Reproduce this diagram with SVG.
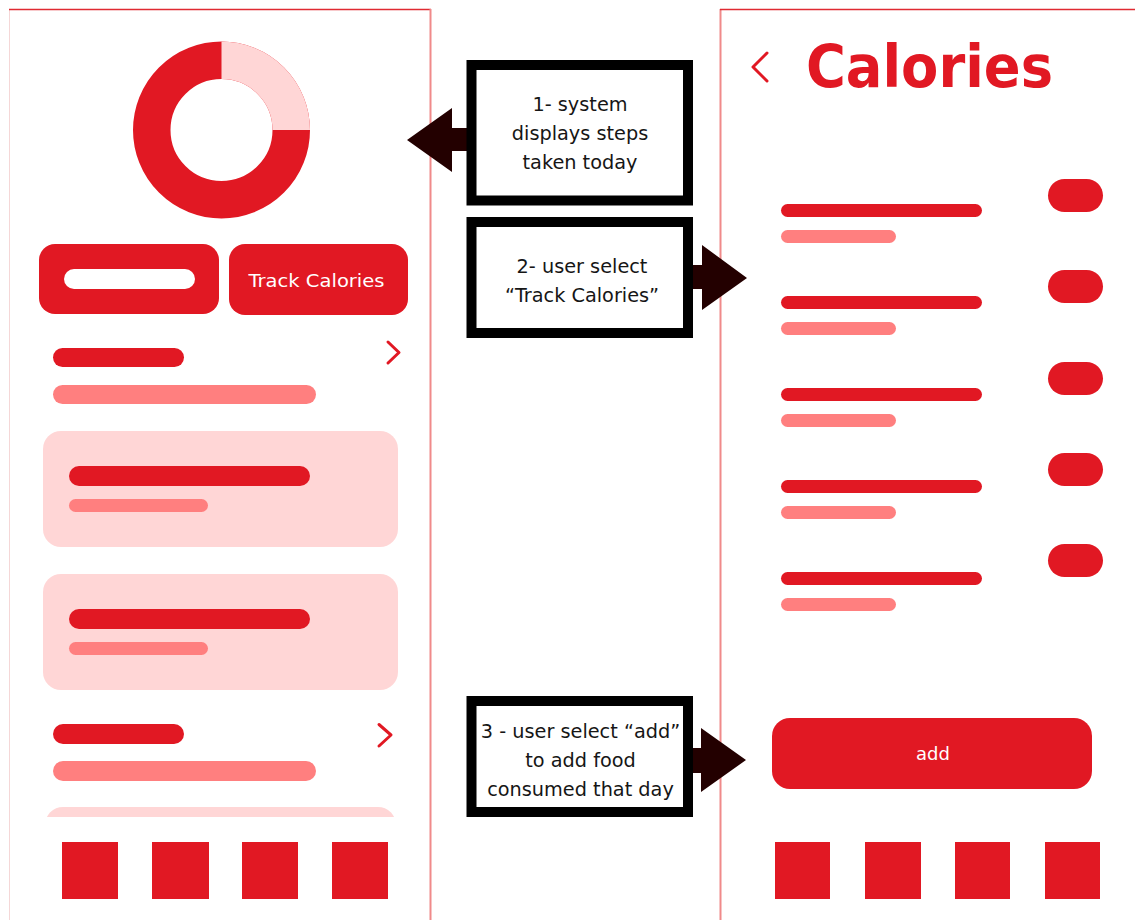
<svg xmlns="http://www.w3.org/2000/svg" width="1135" height="920" viewBox="0 0 1135 920">
  <style>
    .red { fill: #e11823; }
    .bar { fill: #ff7f7f; }
    .card { fill: #ffd6d6; }
    .chev { fill: none; stroke: #e11823; stroke-width: 3; stroke-linecap: round; stroke-linejoin: round; }
    .box { fill: #ffffff; stroke: #000000; stroke-width: 10; }
    .note { font-family: "DejaVu Sans", "Liberation Sans", sans-serif; font-size: 19.3px; fill: #161616; text-anchor: middle; }
    .btn { font-family: "DejaVu Sans", "Liberation Sans", sans-serif; font-size: 18px; fill: #ffffff; text-anchor: middle; }
    .arrow { fill: #230000; }
  </style>
  <defs>
    <clipPath id="peek">
      <rect x="0" y="0" width="430" height="817"/>
    </clipPath>
  </defs>
  <rect width="1135" height="920" fill="#ffffff"/>

  <!-- home screen -->
  <g id="home-screen">
    <line x1="9.5" y1="9" x2="9.5" y2="920" stroke="#f5d7d7" stroke-width="1"/>
    <line x1="9" y1="9.5" x2="431" y2="9.5" stroke="#e02a32" stroke-width="1.5"/>
    <line x1="430.5" y1="9" x2="430.5" y2="920" stroke="#f08a8a" stroke-width="2"/>

    <!-- step ring -->
    <circle cx="221.5" cy="130" r="69.75" fill="none" stroke="#e11823" stroke-width="37.5"/>
    <path d="M221.5,60.25 A69.75,69.75 0 0 1 291.25,130" fill="none" stroke="#ffd6d6" stroke-width="37.5"/>

    <!-- action buttons -->
    <rect class="red" x="39" y="244" width="180" height="70" rx="16"/>
    <rect x="64" y="269" width="131" height="20" rx="10" fill="#ffffff"/>
    <rect class="red" x="229" y="244" width="179" height="71" rx="16"/>
    <text class="btn" x="316.5" y="286.5" textLength="136" lengthAdjust="spacingAndGlyphs">Track Calories</text>

    <!-- list row -->
    <rect class="red" x="53" y="348" width="131" height="19" rx="9.5"/>
    <rect class="bar" x="53" y="385" width="263" height="19" rx="9.5"/>
    <polyline class="chev" points="388,342 399,352.5 388,363"/>

    <!-- cards -->
    <rect class="card" x="43" y="431" width="355" height="116" rx="18"/>
    <rect class="red" x="69" y="466" width="241" height="20" rx="10"/>
    <rect class="bar" x="69" y="499" width="139" height="13" rx="6.5"/>

    <rect class="card" x="43" y="574" width="355" height="116" rx="18"/>
    <rect class="red" x="69" y="609" width="241" height="20" rx="10"/>
    <rect class="bar" x="69" y="642" width="139" height="13" rx="6.5"/>

    <!-- list row -->
    <rect class="red" x="53" y="724" width="131" height="20" rx="10"/>
    <rect class="bar" x="53" y="761" width="263" height="20" rx="10"/>
    <polyline class="chev" points="379,724.5 391,735 379,746"/>

    <!-- next card, cut off by the tab bar -->
    <rect class="card" x="45" y="807" width="351" height="60" rx="18" clip-path="url(#peek)"/>

    <!-- tab bar -->
    <rect class="red" x="62" y="842" width="56" height="57"/>
    <rect class="red" x="152" y="842" width="57" height="57"/>
    <rect class="red" x="242" y="842" width="56" height="57"/>
    <rect class="red" x="332" y="842" width="56" height="57"/>
  </g>

  <!-- calories screen -->
  <g id="calories-screen">
    <line x1="720.5" y1="9" x2="720.5" y2="920" stroke="#f08a8a" stroke-width="2"/>
    <line x1="720" y1="9.5" x2="1135" y2="9.5" stroke="#e02a32" stroke-width="1.5"/>

    <polyline class="chev" points="767,53 753,67 767,81"/>
    <text x="806" y="87" font-family="'DejaVu Sans', 'Liberation Sans', sans-serif" font-weight="bold" font-size="59" fill="#e11823" textLength="247" lengthAdjust="spacingAndGlyphs">Calories</text>

    <!-- food entries -->
    <rect class="red" x="1048" y="179" width="55" height="33" rx="16.5"/>
    <rect class="red" x="781" y="204" width="201" height="13" rx="6.5"/>
    <rect class="bar" x="781" y="230" width="115" height="13" rx="6.5"/>

    <rect class="red" x="1048" y="270" width="55" height="33" rx="16.5"/>
    <rect class="red" x="781" y="296" width="201" height="13" rx="6.5"/>
    <rect class="bar" x="781" y="322" width="115" height="13" rx="6.5"/>

    <rect class="red" x="1048" y="362" width="55" height="33" rx="16.5"/>
    <rect class="red" x="781" y="388" width="201" height="13" rx="6.5"/>
    <rect class="bar" x="781" y="414" width="115" height="13" rx="6.5"/>

    <rect class="red" x="1048" y="453" width="55" height="33" rx="16.5"/>
    <rect class="red" x="781" y="480" width="201" height="13" rx="6.5"/>
    <rect class="bar" x="781" y="506" width="115" height="13" rx="6.5"/>

    <rect class="red" x="1048" y="544" width="55" height="33" rx="16.5"/>
    <rect class="red" x="781" y="572" width="201" height="13" rx="6.5"/>
    <rect class="bar" x="781" y="598" width="115" height="13" rx="6.5"/>

    <!-- add button -->
    <rect class="red" x="772" y="718" width="320" height="71" rx="18"/>
    <text class="btn" x="933" y="760">add</text>

    <!-- tab bar -->
    <rect class="red" x="775" y="842" width="55" height="57"/>
    <rect class="red" x="865" y="842" width="56" height="57"/>
    <rect class="red" x="955" y="842" width="55" height="57"/>
    <rect class="red" x="1045" y="842" width="55" height="57"/>
  </g>

  <!-- block arrows pointing from each step to its screen -->
  <g id="connectors">
    <polygon class="arrow" points="467,128 452,128 452,108 407,140 452,172 452,151 467,151"/>
    <polygon class="arrow" points="691,265 702,265 702,245 747,278 702,310 702,289 691,289"/>
    <polygon class="arrow" points="691,748 701,748 701,728 746,760 701,792 701,773 691,773"/>
  </g>

  <g id="step-1">
    <rect class="box" x="471.5" y="65" width="216.5" height="135.5"/>
    <text class="note" x="580" y="110.5">1- system</text>
    <text class="note" x="580" y="139.5">displays steps</text>
    <text class="note" x="580" y="168.5">taken today</text>
  </g>

  <g id="step-2">
    <rect class="box" x="471.5" y="222" width="216.5" height="111"/>
    <text class="note" x="582" y="272.5">2- user select</text>
    <text class="note" x="582" y="301.5">“Track Calories”</text>
  </g>

  <g id="step-3">
    <rect class="box" x="471.5" y="701" width="216.5" height="111"/>
    <text class="note" x="580.5" y="737.5">3 - user select “add”</text>
    <text class="note" x="580.5" y="766.5">to add food</text>
    <text class="note" x="580.5" y="795.5">consumed that day</text>
  </g>
</svg>
